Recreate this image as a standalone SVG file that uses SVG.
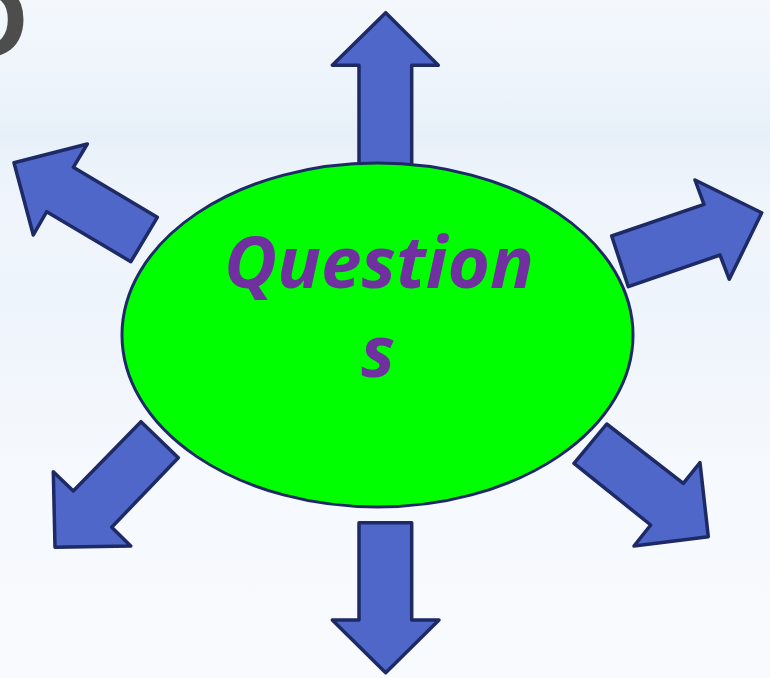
<svg xmlns="http://www.w3.org/2000/svg" width="770" height="678" viewBox="0 0 770 678">
  <defs>
    <linearGradient id="bg" x1="0" y1="0" x2="0" y2="1">
      <stop offset="0" stop-color="#f4f8fd"/>
      <stop offset="0.12" stop-color="#eef4fb"/>
      <stop offset="0.2" stop-color="#e7f0f9"/>
      <stop offset="0.3" stop-color="#f0f5fc"/>
      <stop offset="0.45" stop-color="#eef4fb"/>
      <stop offset="0.7" stop-color="#f6f9fd"/>
      <stop offset="1" stop-color="#f8fafe"/>
    </linearGradient>
    <style>
      .arrow { fill: #4f67c8; stroke: #1d2a66; stroke-width: 3.5; stroke-linejoin: round; }
      .oval { fill: #00ff00; stroke: #1d2a66; stroke-width: 3; }
      .label { font-family: "Open Sans", "Liberation Sans", sans-serif; font-style: italic; font-weight: bold; font-size: 72px; fill: #7030a0; }
      .corner { font-family: "Liberation Sans", "DejaVu Sans", sans-serif; font-weight: bold; font-size: 108px; fill: #4d4d4d; }
    </style>
  </defs>
  <rect x="0" y="0" width="770" height="678" fill="url(#bg)"/>
  <text class="corner" x="-50" y="57">D</text>

  <g id="connectors">
    <polygon id="arrow-up" class="arrow" points="359,166 359,65.3 332.3,65.3 385.7,12.7 438.3,65.3 411.7,65.3 411.7,166"/>
    <polygon id="arrow-down" class="arrow" points="359,522.7 411.7,522.7 411.7,620 439,620 385.7,672.7 332.3,620 359,620"/>
    <polygon id="arrow-upleft" class="arrow" points="157.3,217.3 73.3,167.3 87.3,144 14,162.7 33.3,235 46.7,211.7 130.9,261.7"/>
    <polygon id="arrow-upright" class="arrow" points="611.7,236 704,204.3 695,180 761.7,212.7 729.3,279.3 720,255 628.3,286.7"/>
    <polygon id="arrow-downleft" class="arrow" points="141,421.7 178.3,457.7 111.7,527.3 130.7,546 55,547.3 53.3,471.7 73.3,491"/>
    <polygon id="arrow-downright" class="arrow" points="606.7,424 683.3,483.3 700,462.7 708.3,536.7 634,546 650.7,525 574,463.3"/>
  </g>

  <g id="questions">
    <ellipse class="oval" cx="377.5" cy="335" rx="255.5" ry="172"/>
    <text class="label" x="379" y="288" text-anchor="middle" textLength="310" lengthAdjust="spacingAndGlyphs">Question</text>
    <text class="label" x="378" y="377" text-anchor="middle">s</text>
  </g>
</svg>
